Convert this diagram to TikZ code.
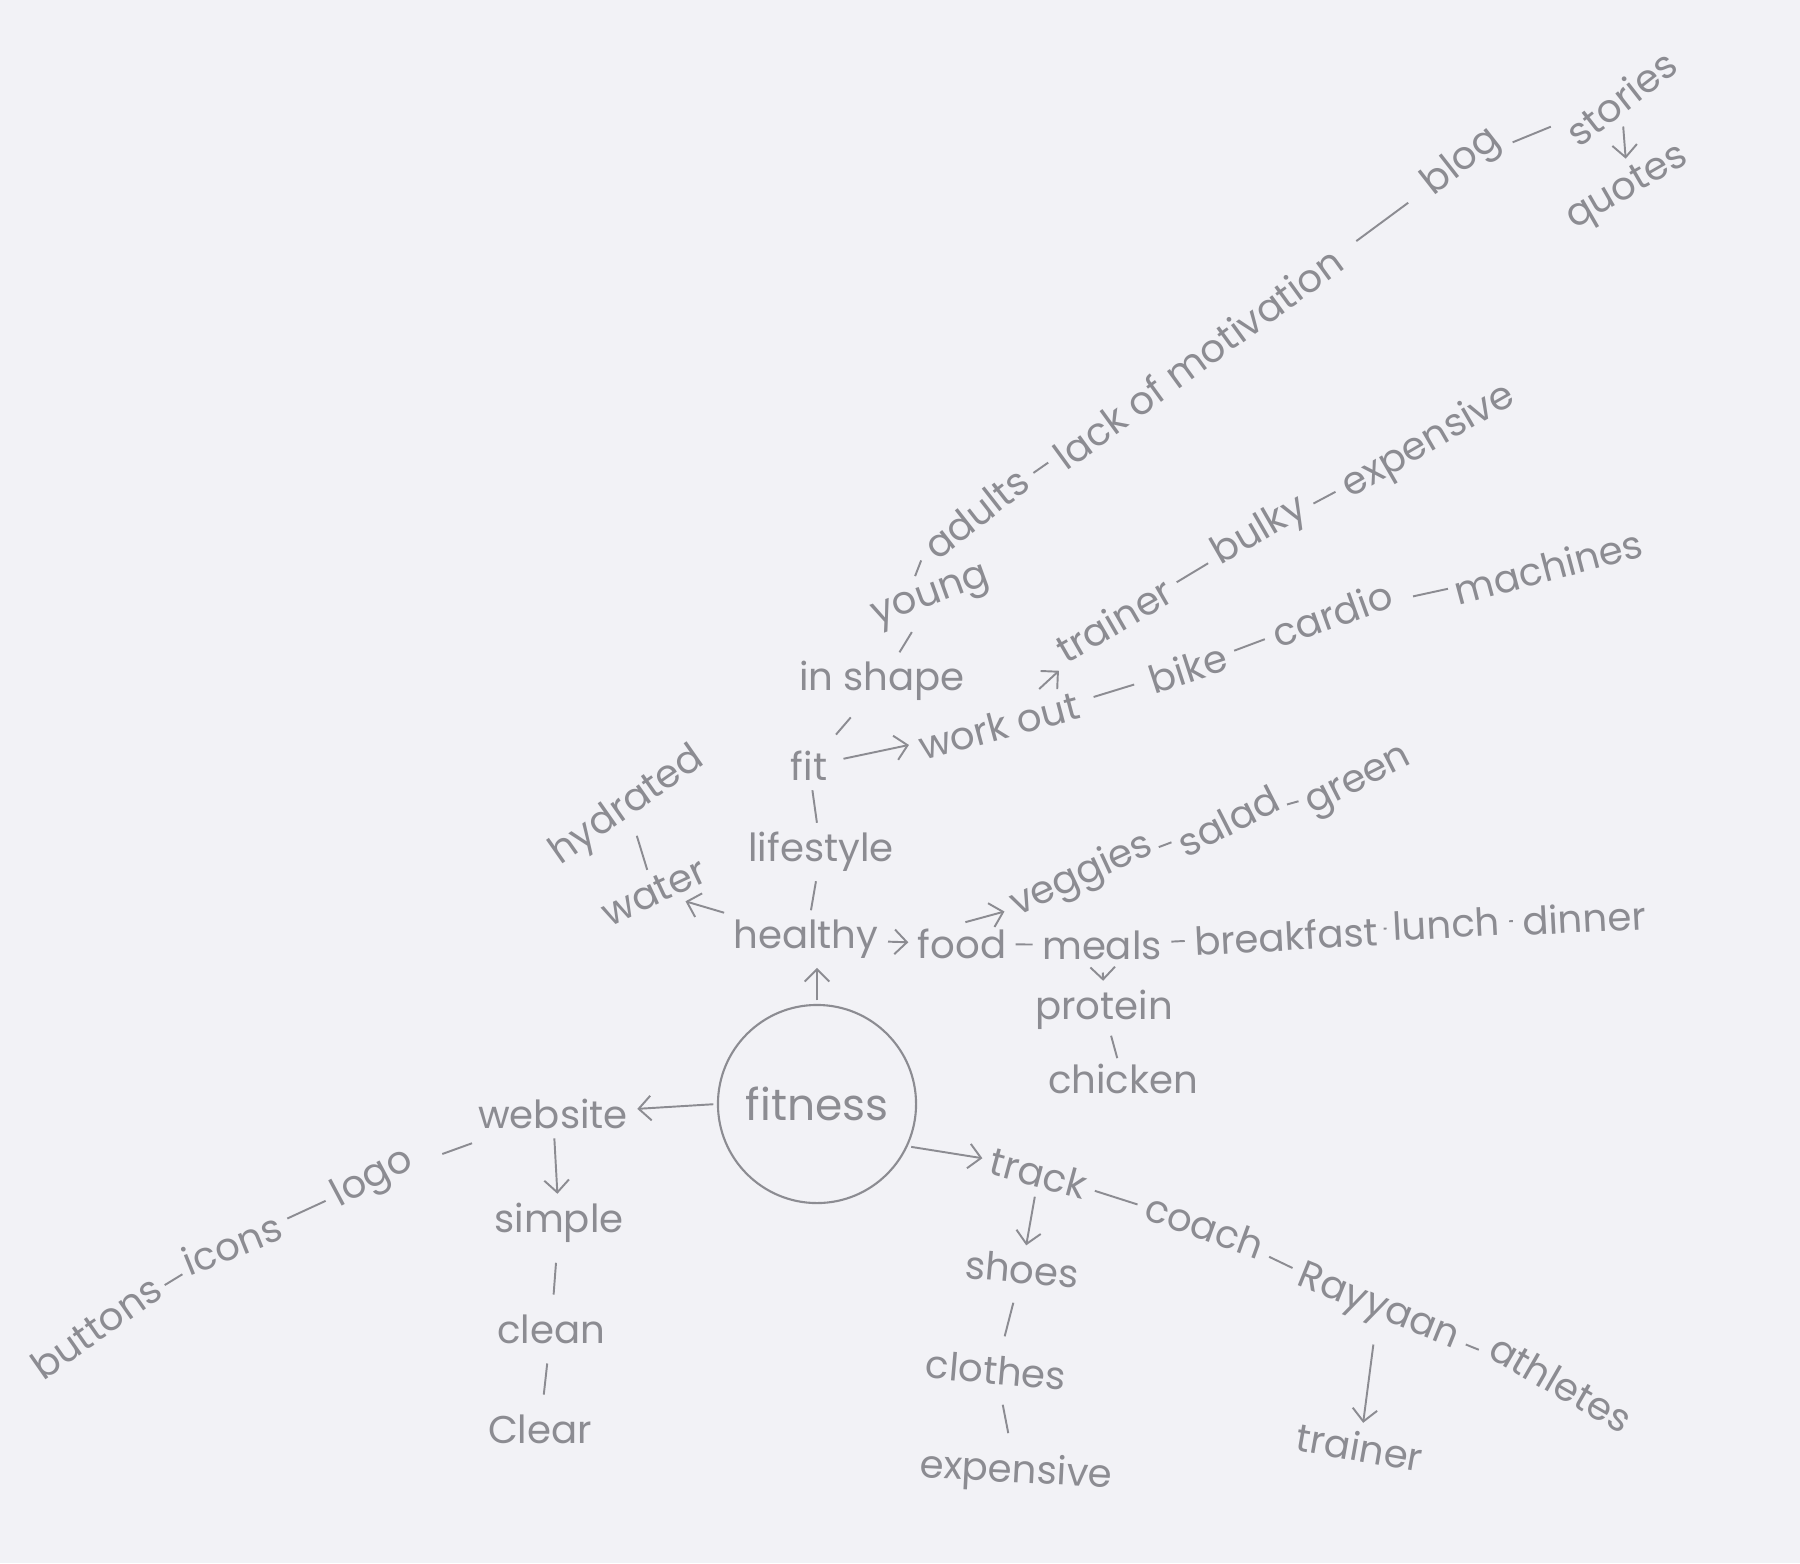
\documentclass[tikz,border=0pt]{standalone}
\usepackage{fontspec}
\setmainfont{Poppins}
\usetikzlibrary{arrows.meta}
\definecolor{paper}{RGB}{242,242,246}
\definecolor{pencil}{RGB}{140,140,146}
\begin{document}
\begin{tikzpicture}[x=0.01cm,y=-0.01cm,
 word/.style={text=pencil, font=\fontsize{11}{13}\selectfont, inner sep=1.5pt},
 link/.style={draw=pencil, line width=0.55pt, shorten >=1pt, shorten <=1pt},
 shortlink/.style={link, shorten >=5pt, shorten <=5pt},
 vlink/.style={link, shorten >=4pt, shorten <=4pt},
 arr/.style={link, -{Straight Barb[length=3.5pt,width=7pt]}},
]
\fill[paper] (0,0) rectangle (1800,1563);
\useasboundingbox (0,0) rectangle (1800,1563);

% centre
\node[circle, draw=pencil, line width=0.6pt, minimum size=1.98cm, text=pencil,
      font=\fontsize{12.5}{14}\selectfont] (F) at (817,1104) {fitness};

% healthy branch
\node[word] (healthy) at (806,939) {healthy};
\node[word] (food) at (962,944) {food};
\node[word] (meals) at (1102,945) {meals};
\node[word, rotate=3] (breakfast) at (1286,936) {breakfast};
\node[word, rotate=3] (lunch) at (1446,924) {lunch};
\node[word, rotate=3] (dinner) at (1584,918) {dinner};
\node[word, rotate=25] (veggies) at (1082,876) {veggies};
\node[word, rotate=27] (salad) at (1228,821) {salad};
\node[word, rotate=27] (green) at (1360,784) {green};
\node[word] (protein) at (1104,1010) {protein};
\node[word] (chicken) at (1123,1079) {chicken};
\node[word] (lifestyle) at (821,852) {lifestyle};
\node[word] (fitw) at (809,766) {fit};
\node[word] (inshape) at (882,681) {in shape};
\node[word, rotate=20] (young) at (932,599) {young};
\node[word, rotate=38] (adults) at (976,513) {adults};
\node[word, rotate=36] (lack) at (1198,358) {lack of motivation};
\node[word, rotate=38] (blog) at (1462,163) {blog};
\node[word, rotate=38] (stories) at (1621,98) {stories};
\node[word, rotate=30] (quotes) at (1628,189) {quotes};
\node[word, rotate=30] (trainerA) at (1114,620) {trainer};
\node[word, rotate=30] (bulky) at (1260,532) {bulky};
\node[word, rotate=30] (expA) at (1429,442) {expensive};
\node[word, rotate=15] (workout) at (999,726) {work out};
\node[word, rotate=18] (bike) at (1188,668) {bike};
\node[word, rotate=20] (cardio) at (1332,614) {cardio};
\node[word, rotate=15] (machines) at (1548,567) {machines};
\node[word, rotate=25] (water) at (654,892) {water};
\node[word, rotate=35] (hydrated) at (628,807) {hydrated};

% website branch
\node[word] (website) at (553,1114) {website};
\node[word, rotate=28] (logo) at (373,1179) {logo};
\node[word, rotate=22] (icons) at (232,1244) {icons};
\node[word, rotate=35] (buttons) at (96,1327) {buttons};
\node[word] (simple) at (559,1223) {simple};
\node[word] (clean) at (551,1329) {clean};
\node[word] (clear) at (540,1429) {Clear};

% track branch
\node[word, rotate=-15] (track) at (1039,1173) {track};
\node[word, rotate=-20] (coach) at (1205,1226) {coach};
\node[word, rotate=-22] (rayyaan) at (1378,1309) {Rayyaan};
\node[word, rotate=-30] (athletes) at (1561,1383) {athletes};
\node[word, rotate=-10] (trainerB) at (1360,1447) {trainer};
\node[word, rotate=-5] (shoes) at (1022,1269) {shoes};
\node[word, rotate=-5] (clothes) at (996,1370) {clothes};
\node[word, rotate=-3] (expB) at (1016,1473) {expensive};

% connectors
\draw[arr] (F.north) -- (F.north |- healthy.south);
\draw[arr] (healthy) -- (food);
\draw[link] (food) -- (meals);
\draw[link] (meals) -- (breakfast);
\draw[link, shorten >=0pt, shorten <=0pt] (breakfast) -- (lunch);
\draw[link] (lunch) -- (dinner);
\draw[arr] (food.north) -- (veggies.west);
\draw[link, shorten >=0pt, shorten <=0pt] (veggies) -- (salad);
\draw[link, shorten >=0pt, shorten <=0pt] (salad) -- (green);
\draw[arr, shorten <=2pt] (meals) -- (protein);
\draw[link, shorten >=0pt, shorten <=0pt] (protein) -- (chicken);
\draw[link] (healthy) -- (lifestyle);
\draw[link] (lifestyle) -- (fitw);
\draw[vlink] (fitw) -- (inshape);
\draw[link] (inshape) -- (young);
\draw[link, shorten <=2pt, shorten >=2pt] (young.120) -- (adults.west);
\draw[link] (adults) -- (lack);
\draw[shortlink] (lack) -- (blog);
\draw[link] (blog) -- (stories);
\draw[arr] (stories) -- (quotes);
\draw[arr, shorten <=3pt] (fitw) -- (workout);
\draw[arr, shorten <=3pt] (workout) -- (trainerA);
\draw[link] (trainerA) -- (bulky);
\draw[link] (bulky) -- (expA);
\draw[link, shorten >=3pt, shorten <=3pt] (workout) -- (bike);
\draw[link] (bike) -- (cardio);
\draw[link, shorten <=4pt, shorten >=0pt] (cardio) -- (machines);
\draw[arr] (healthy.north west) -- (water);
\draw[link] (water) -- (hydrated);

\draw[arr] (F.west) -- (website);
\draw[link, shorten >=7pt, shorten <=7pt] (website) -- (logo);
\draw[link] (logo) -- (icons);
\draw[link, shorten >=0pt, shorten <=0pt] (icons) -- (buttons);
\draw[arr] (website) -- (simple);
\draw[vlink] (simple) -- (clean);
\draw[vlink] (clean) -- (clear);

\draw[arr] (F.-25) -- (track.west);
\draw[link] (track) -- (coach);
\draw[link] (coach) -- (rayyaan);
\draw[link] (rayyaan) -- (athletes);
\draw[arr, shorten <=3pt] (rayyaan) -- (trainerB);
\draw[arr] (track) -- (shoes);
\draw[vlink] (shoes) -- (clothes);
\draw[vlink] (clothes) -- (expB);
\end{tikzpicture}
\end{document}
